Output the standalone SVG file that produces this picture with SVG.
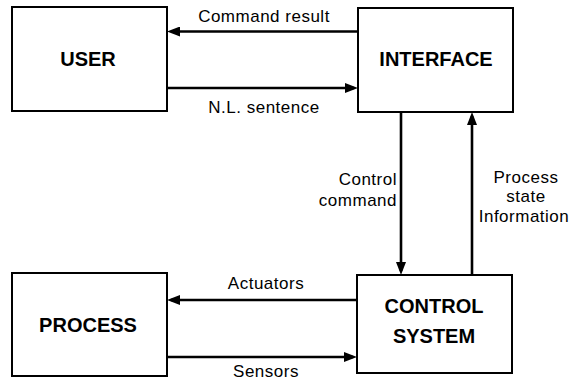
<svg xmlns="http://www.w3.org/2000/svg" width="579" height="380" viewBox="0 0 579 380">
  <style>
    .box { fill: #ffffff; stroke: #000000; stroke-width: 2; }
    .title { font-family: "Liberation Sans", Arial, sans-serif; font-weight: bold; font-size: 20px; fill: #000000; text-anchor: middle; }
    .label { font-family: "Liberation Sans", Arial, sans-serif; font-size: 17px; letter-spacing: 0.5px; fill: #000000; }
    .conn { fill: none; stroke: #000000; stroke-width: 2.6; marker-end: url(#arrow); }
  </style>
  <defs>
    <marker id="arrow" markerUnits="userSpaceOnUse" viewBox="0 0 13 10" refX="9" refY="5" markerWidth="13" markerHeight="10" orient="auto">
      <path d="M0,0 L13,5 L0,10 z" fill="#000000"/>
    </marker>
  </defs>
  <rect width="579" height="380" fill="#ffffff"/>

  <g id="user">
    <rect class="box" x="12" y="7" width="155" height="104"/>
    <text class="title" x="88" y="66">USER</text>
  </g>
  <g id="interface">
    <rect class="box" x="358" y="8" width="155" height="104"/>
    <text class="title" x="436" y="66">INTERFACE</text>
  </g>
  <g id="process">
    <rect class="box" x="12" y="273" width="155" height="103"/>
    <text class="title" x="88" y="332">PROCESS</text>
  </g>
  <g id="control-system">
    <rect class="box" x="357" y="275" width="155" height="98"/>
    <text class="title" x="434" y="313">CONTROL</text>
    <text class="title" x="434" y="343">SYSTEM</text>
  </g>

  <g id="connectors">
    <line class="conn" x1="358" y1="31.5" x2="171" y2="31.5"/>
    <line class="conn" x1="167" y1="88" x2="354" y2="88"/>
    <line class="conn" x1="401" y1="112" x2="401" y2="271"/>
    <line class="conn" x1="472" y1="275" x2="472" y2="116"/>
    <line class="conn" x1="357" y1="300" x2="171" y2="300"/>
    <line class="conn" x1="167" y1="357" x2="353" y2="357"/>
    <text class="label" x="264" y="22" text-anchor="middle">Command result</text>
    <text class="label" x="264" y="113" text-anchor="middle">N.L. sentence</text>
    <text class="label" x="397" y="185" text-anchor="end">Control</text>
    <text class="label" x="397" y="206" text-anchor="end">command</text>
    <text class="label" x="526" y="183" text-anchor="middle">Process</text>
    <text class="label" x="526" y="202" text-anchor="middle">state</text>
    <text class="label" x="524" y="222" text-anchor="middle">Information</text>
    <text class="label" x="266" y="289" text-anchor="middle">Actuators</text>
    <text class="label" x="266" y="377" text-anchor="middle">Sensors</text>
  </g>
</svg>
